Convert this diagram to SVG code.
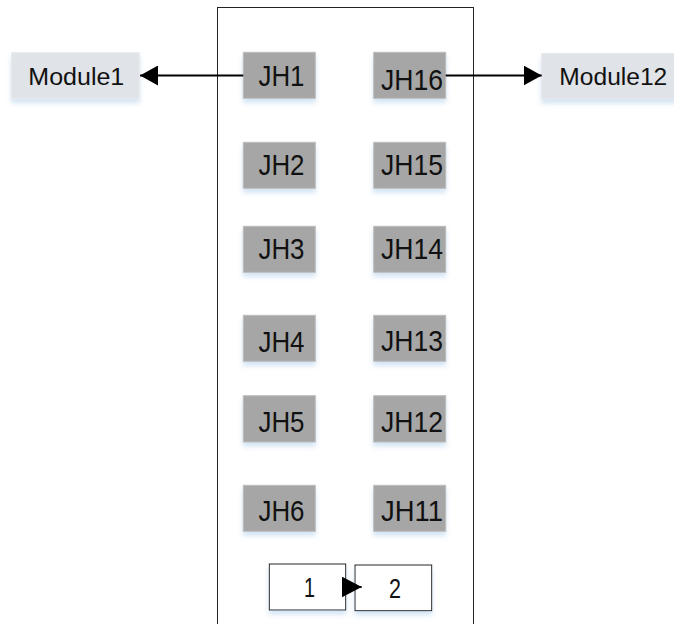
<svg xmlns="http://www.w3.org/2000/svg" width="674" height="624" viewBox="0 0 674 624">
<defs>
  <filter id="sh" x="-20%" y="-20%" width="140%" height="160%">
    <feDropShadow dx="0" dy="4" stdDeviation="2.5" flood-color="#9dc3e6" flood-opacity="0.45"/>
  </filter>
  <marker id="ah" viewBox="0 0 18 20" refX="18" refY="10" markerWidth="18" markerHeight="20" markerUnits="userSpaceOnUse" orient="auto">
    <path d="M0,0 L18,10 L0,20 z" fill="#000"/>
  </marker>
  <marker id="ah2" viewBox="0 0 20 21" refX="20" refY="10.5" markerWidth="20" markerHeight="21" markerUnits="userSpaceOnUse" orient="auto">
    <path d="M0,0 L20,10.5 L0,21 z" fill="#000"/>
  </marker>
</defs>
<style>
  .jh { fill: #a6a6a6; stroke: #bdbdbd; stroke-width: 1; filter: url(#sh); }
  .mod { fill: #e0e3e7; stroke: #e8eaed; stroke-width: 1; filter: url(#sh); }
  .wb { fill: #ffffff; stroke: #222; stroke-width: 1; filter: url(#sh); }
  .t { font-family: "Liberation Sans", Arial, sans-serif; font-size: 30px; fill: #111; }
  .tm { font-family: "Liberation Sans", Arial, sans-serif; font-size: 23.5px; fill: #111; }
  .td { font-family: "Liberation Sans", Arial, sans-serif; font-size: 28px; fill: #111; }
  .ln { stroke: #000; stroke-width: 1.8; fill: none; }
</style>
<rect id="frame" x="217.5" y="7.5" width="256" height="630" fill="#fff" stroke="#222" stroke-width="1"/>

<g id="Module1"><rect class="mod" x="11.7" y="52.7" width="127.6" height="46"/><text class="tm" x="28.3" y="85" textLength="96" lengthAdjust="spacingAndGlyphs">Module1</text></g>
<g id="Module12"><rect class="mod" x="541.7" y="53.5" width="140" height="45.5"/><text class="tm" x="559.3" y="85" textLength="108" lengthAdjust="spacingAndGlyphs">Module12</text></g>

<g id="JH1"><rect class="jh" x="243.3" y="52.3" width="72" height="46"/><text class="t" x="258.5" y="86" textLength="46" lengthAdjust="spacingAndGlyphs">JH1</text></g>
<g id="JH16"><rect class="jh" x="373.7" y="52.3" width="72" height="46"/><text class="t" x="381" y="90" textLength="62" lengthAdjust="spacingAndGlyphs">JH16</text></g>
<g id="JH2"><rect class="jh" x="243.3" y="142.3" width="72" height="46"/><text class="t" x="258.5" y="175" textLength="46" lengthAdjust="spacingAndGlyphs">JH2</text></g>
<g id="JH15"><rect class="jh" x="373.7" y="142.3" width="72" height="46"/><text class="t" x="381" y="175" textLength="62" lengthAdjust="spacingAndGlyphs">JH15</text></g>
<g id="JH3"><rect class="jh" x="243.3" y="226.3" width="72" height="46"/><text class="t" x="258.5" y="259.3" textLength="46" lengthAdjust="spacingAndGlyphs">JH3</text></g>
<g id="JH14"><rect class="jh" x="373.7" y="226.3" width="72" height="46"/><text class="t" x="381" y="259.3" textLength="62" lengthAdjust="spacingAndGlyphs">JH14</text></g>
<g id="JH4"><rect class="jh" x="243.3" y="315.3" width="72" height="46"/><text class="t" x="258.5" y="352.3" textLength="46" lengthAdjust="spacingAndGlyphs">JH4</text></g>
<g id="JH13"><rect class="jh" x="373.7" y="315.3" width="72" height="46"/><text class="t" x="381" y="350.7" textLength="62" lengthAdjust="spacingAndGlyphs">JH13</text></g>
<g id="JH5"><rect class="jh" x="243.3" y="395.7" width="72" height="46.3"/><text class="t" x="258.5" y="431.7" textLength="46" lengthAdjust="spacingAndGlyphs">JH5</text></g>
<g id="JH12"><rect class="jh" x="373.7" y="395.7" width="72" height="46.3"/><text class="t" x="381" y="431.7" textLength="62" lengthAdjust="spacingAndGlyphs">JH12</text></g>
<g id="JH6"><rect class="jh" x="243.3" y="485.3" width="72" height="46"/><text class="t" x="258.5" y="521" textLength="46" lengthAdjust="spacingAndGlyphs">JH6</text></g>
<g id="JH11"><rect class="jh" x="373.7" y="485.3" width="72" height="46"/><text class="t" x="381" y="521" textLength="62" lengthAdjust="spacingAndGlyphs">JH11</text></g>

<g id="B1"><rect class="wb" x="269.3" y="564" width="76.4" height="46"/><text class="td" x="304" y="597.3" textLength="11" lengthAdjust="spacingAndGlyphs">1</text></g>
<g id="B2"><rect class="wb" x="355" y="565" width="76.7" height="45.7"/><text class="td" x="389" y="597.7" textLength="12" lengthAdjust="spacingAndGlyphs">2</text></g>

<g id="connectors">
  <line class="ln" x1="243.3" y1="75.5" x2="140" y2="75.5" marker-end="url(#ah)"/>
  <line class="ln" x1="445.7" y1="75.5" x2="541.7" y2="75.5" marker-end="url(#ah)"/>
  <line class="ln" x1="343" y1="587" x2="361.7" y2="587" marker-end="url(#ah2)"/>
</g>
</svg>
